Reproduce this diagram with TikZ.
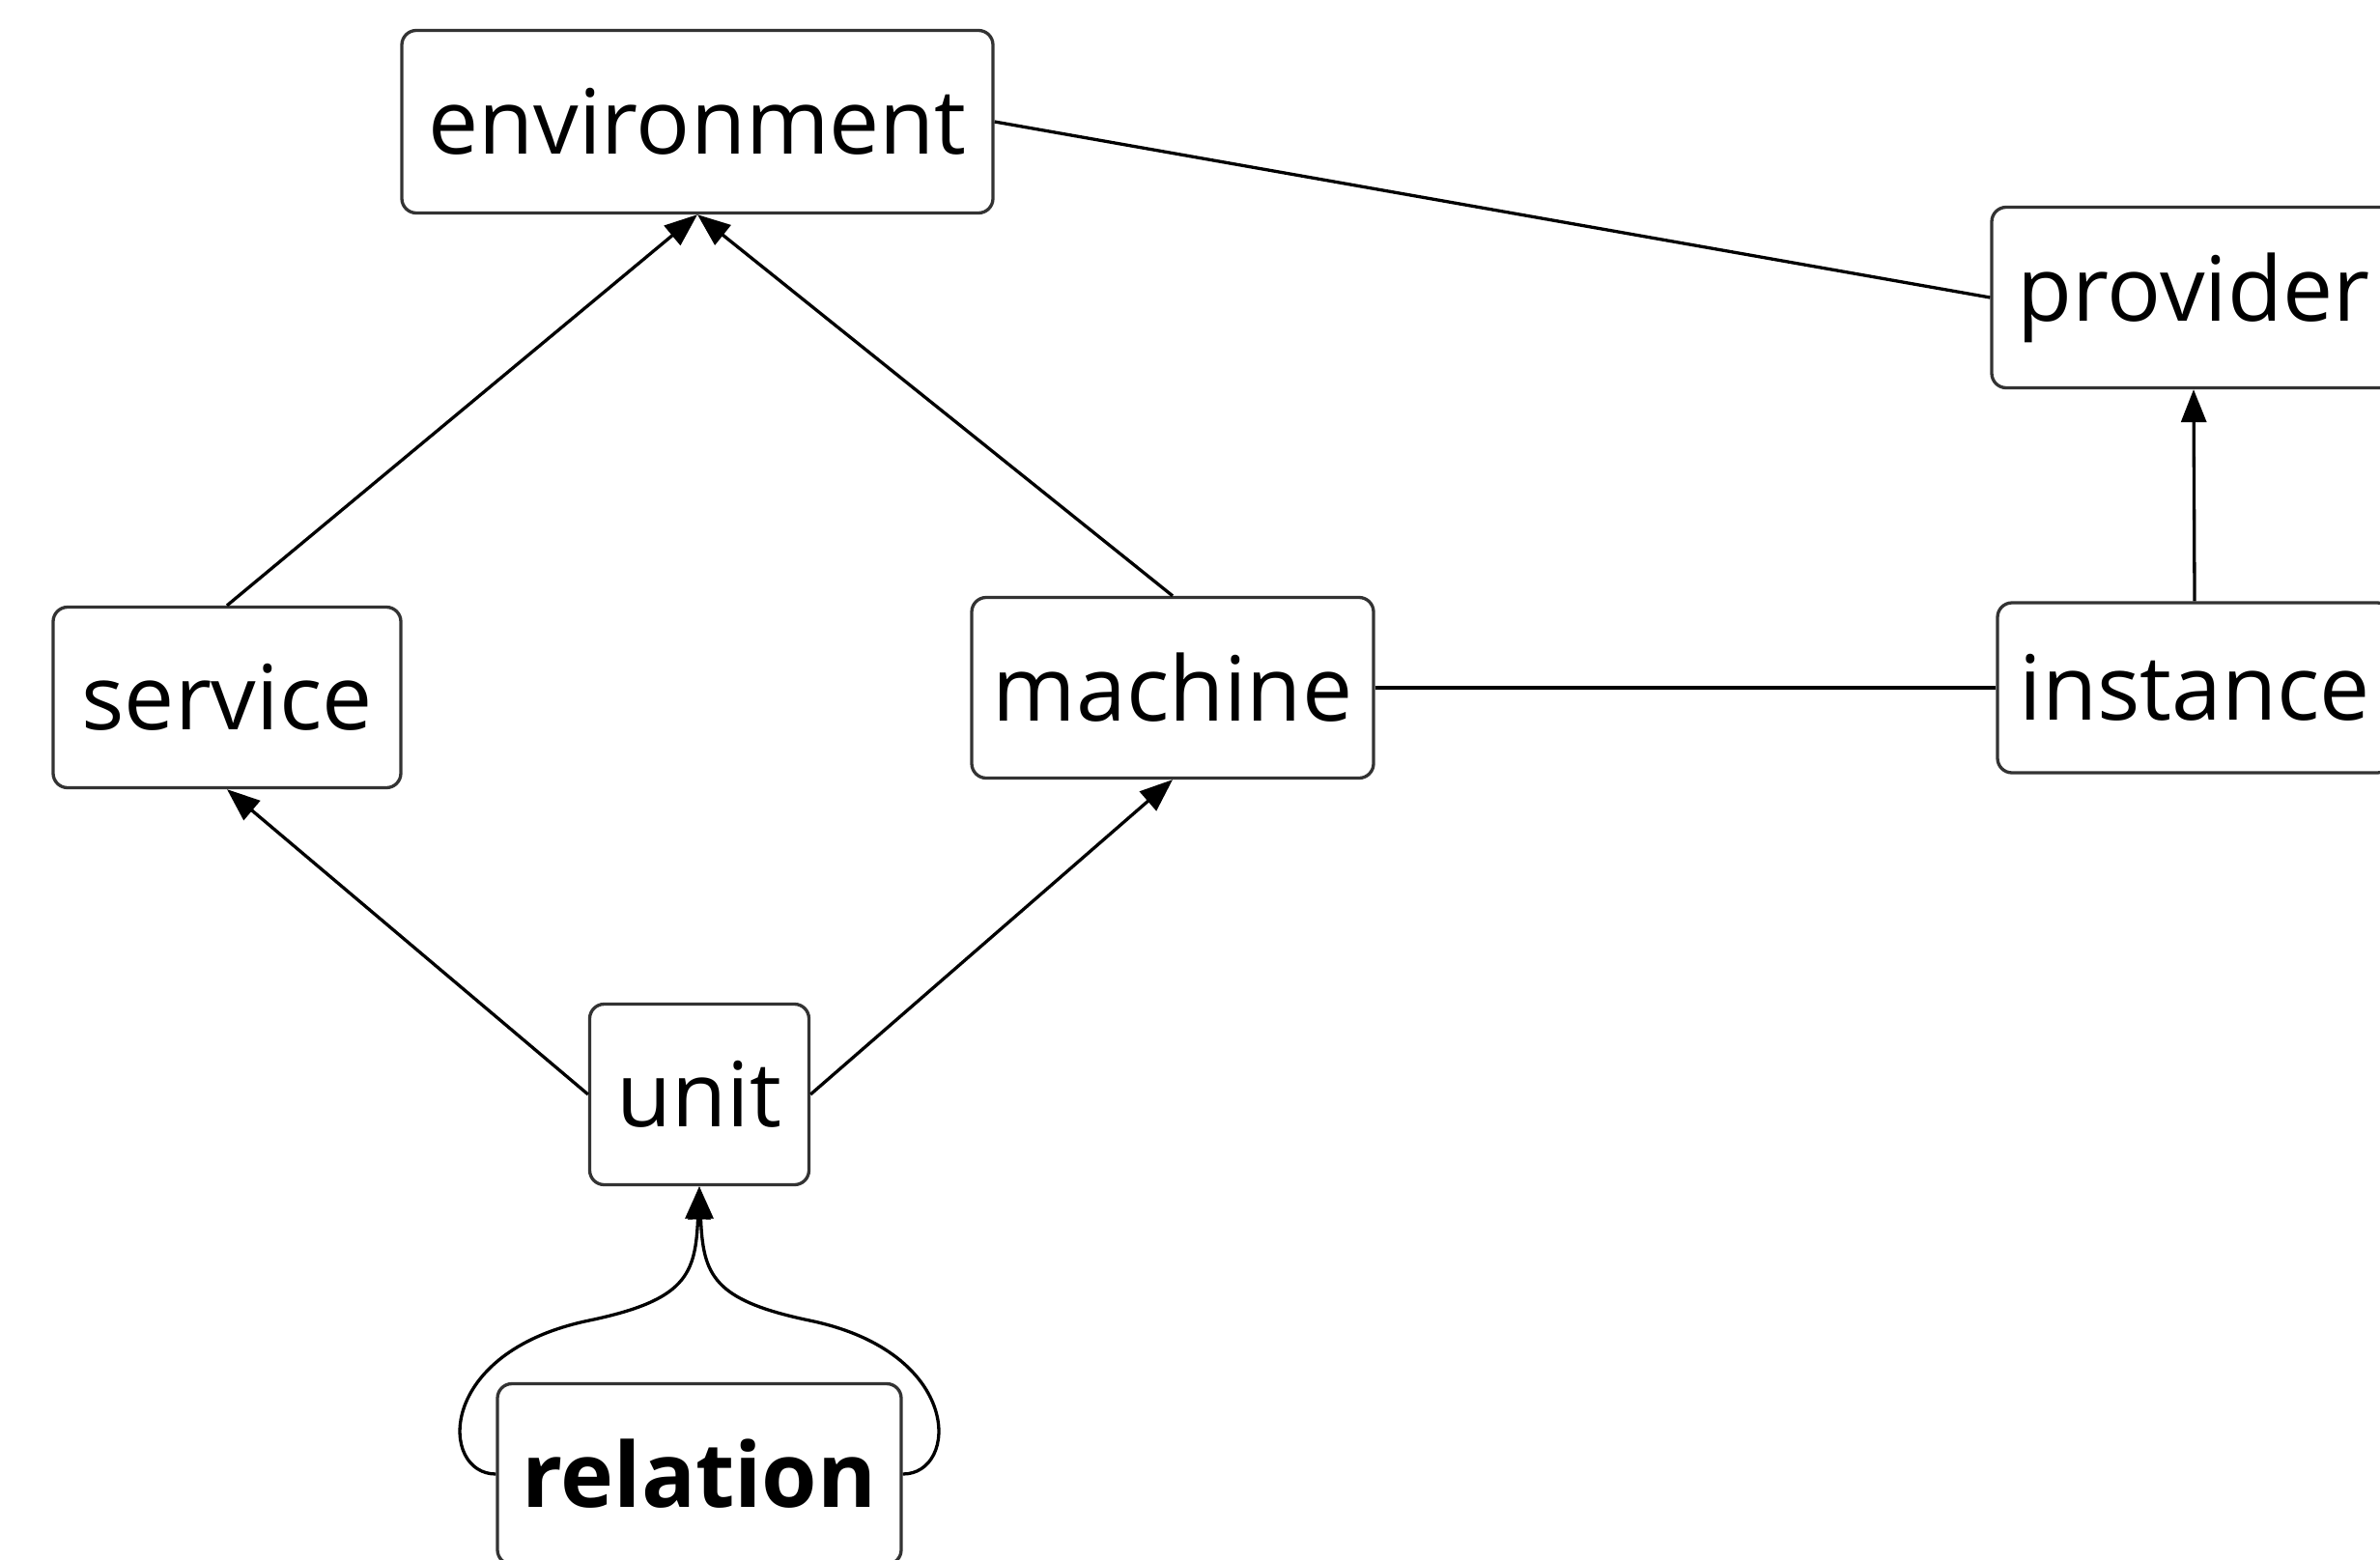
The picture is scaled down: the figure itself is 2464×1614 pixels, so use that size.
\documentclass[tikz,border=0pt]{standalone}
\usepackage{fontspec}
\setmainfont{Open Sans}
\usetikzlibrary{arrows.meta}
\definecolor{boxgray}{HTML}{333333}
\begin{document}
\begin{tikzpicture}[x=1pt,y=-1pt,
  box/.style={draw=boxgray,line width=3.3pt,rounded corners=15pt,fill=white,
    inner sep=0pt,font=\fontsize{93}{100}\selectfont},
  conn/.style={line width=3.3pt,draw=black},
  arr/.style={conn,-{Triangle[length=34pt,width=26pt]}}]
\useasboundingbox (0,0) rectangle (2464,1614);
\node[box,minimum width=612pt,minimum height=189pt] (env) at (722,126) {environment};
\node[box,minimum width=418pt,minimum height=187pt] (prov) at (2271,308) {provider};
\node[box,minimum width=360pt,minimum height=187pt] (serv) at (235,722) {service};
\node[box,minimum width=416pt,minimum height=187pt] (mach) at (1214,712) {machine};
\node[box,minimum width=408pt,minimum height=176pt] (inst) at (2272,712) {instance};
\node[box,minimum width=227pt,minimum height=187pt] (unit) at (724,1133) {unit};
\node[box,minimum width=418pt,minimum height=187pt,font=\fontsize{93}{100}\selectfont\bfseries] (rel) at (724,1526) {relation};
\draw[arr] (serv.north) -- (env.south);
\draw[arr] (mach.north) -- (env.south);
\draw[conn] (env.east) -- (prov.west);
\draw[arr] (inst.north) -- (prov.south);
\draw[conn] (mach.east) -- (inst.west);
\draw[arr] (unit.west) -- (serv.south);
\draw[arr] (unit.east) -- (mach.south);
\draw[arr] (rel.west) .. controls (455,1526) and (450,1400) .. (610,1367)
  .. controls (710,1346) and (720,1320) .. (unit.south);
\draw[arr] (rel.east) .. controls (993,1526) and (998,1400) .. (838,1367)
  .. controls (738,1346) and (728,1320) .. (unit.south);
\end{tikzpicture}
\end{document}
